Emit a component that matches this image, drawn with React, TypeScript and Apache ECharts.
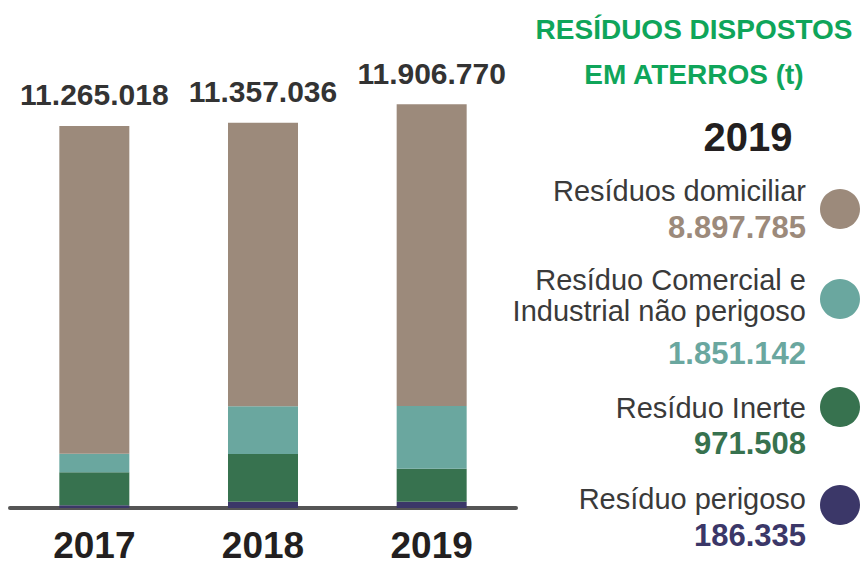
import { useEffect, useRef } from "react";
import * as echarts from "echarts";

// ---- data ----
const years = ["2017", "2018", "2019"];
const domiciliar = [9667018, 8360036, 8897785];
const comercial = [546000, 1405000, 1851142];
const inerte = [970000, 1406000, 971508];
const perigoso = [82000, 186000, 186335];
const seriesNames = [
  "Resíduos domiciliar",
  "Resíduo Comercial e Industrial não perigoso",
  "Resíduo Inerte",
  "Resíduo perigoso",
];
const legendLabels = [
  ["Resíduos domiciliar"],
  ["Resíduo Comercial e", "Industrial não perigoso"],
  ["Resíduo Inerte"],
  ["Resíduo perigoso"],
];
const titleLines = ["RESÍDUOS DISPOSTOS", "EM ATERROS (t)"];
const legendYear = "2019";

const colors = ["#9c8a7b", "#6aa79f", "#37724f", "#3b3768"];
const FONT = "'Liberation Sans', Arial, Helvetica, sans-serif";

function fmt(n: number): string {
  const s = Math.round(n).toString();
  return s.replace(/\B(?=(\d{3})+(?!\d))/g, ".");
}

export default function App() {
  const ref = useRef<HTMLDivElement>(null);
  useEffect(() => {
    if (!ref.current) return;
    const chart = echarts.init(ref.current, undefined, { renderer: "svg" });
    const totals = years.map(
      (_, i) => domiciliar[i] + comercial[i] + inerte[i] + perigoso[i]
    );
    const yi = years.indexOf(legendYear);
    const seriesData = [domiciliar, comercial, inerte, perigoso];

    // legend layout (positions only)
    const nameY = [[191], [280, 311], [407.5], [499]];
    const valueY = [227.5, 353, 443, 535];
    const circleY = [209, 299, 407, 505];
    const textRight = 806;

    const graphics: any[] = [];
    titleLines.forEach((t, i) => {
      graphics.push({
        type: "text",
        x: 694,
        y: i === 0 ? 29 : 74,
        style: {
          text: t,
          fill: "#0fa55a",
          font: `bold 28px ${FONT}`,
          align: "center",
          verticalAlign: "middle",
        },
      });
    });
    graphics.push({
      type: "text",
      x: 748,
      y: 137,
      style: {
        text: legendYear,
        fill: "#231f20",
        font: `bold 40px ${FONT}`,
        align: "center",
        verticalAlign: "middle",
      },
    });
    legendLabels.forEach((lines, k) => {
      lines.forEach((line, j) => {
        graphics.push({
          type: "text",
          x: textRight,
          y: nameY[k][j],
          style: {
            text: line,
            fill: "#3a3a3a",
            font: `normal 29px ${FONT}`,
            align: "right",
            verticalAlign: "middle",
          },
        });
      });
      graphics.push({
        type: "text",
        x: textRight,
        y: valueY[k],
        style: {
          text: fmt(seriesData[k][yi]),
          fill: colors[k],
          font: `bold 31px ${FONT}`,
          align: "right",
          verticalAlign: "middle",
        },
      });
      graphics.push({
        type: "circle",
        shape: { cx: 840, cy: circleY[k], r: 20 },
        style: { fill: colors[k] },
      });
    });

    const stackOrder = [3, 2, 1, 0]; // bottom to top
    const series = stackOrder.map((k, idx) => ({
      name: seriesNames[k],
      type: "bar",
      stack: "total",
      barWidth: 70,
      data: seriesData[k],
      itemStyle: { color: colors[k] },
      label:
        idx === stackOrder.length - 1
          ? {
              show: true,
              position: "top",
              distance: 16,
              formatter: (p: any) => fmt(totals[p.dataIndex]),
              color: "#333333",
              fontFamily: FONT,
              fontWeight: "bold",
              fontSize: 30,
            }
          : { show: false },
    }));

    chart.setOption({
      animation: false,
      grid: { left: 10, width: 506, top: 101, bottom: 59, containLabel: false },
      xAxis: {
        type: "category",
        data: years,
        offset: 3,
        axisLine: { show: true, lineStyle: { color: "#555555", width: 4 } },
        axisTick: { show: false },
        axisLabel: {
          margin: 17,
          lineHeight: 34,
          color: "#231f20",
          fontFamily: FONT,
          fontWeight: "bold",
          fontSize: 37,
        },
      },
      yAxis: {
        type: "value",
        min: 0,
        max: 12000000,
        show: false,
        splitLine: { show: false },
      },
      series,
      graphic: graphics,
    });
    return () => chart.dispose();
  }, []);
  return (
    <div
      ref={ref}
      style={{ position: "fixed", left: 0, top: 0, width: 862, height: 567, background: "#fff" }}
    />
  );
}
